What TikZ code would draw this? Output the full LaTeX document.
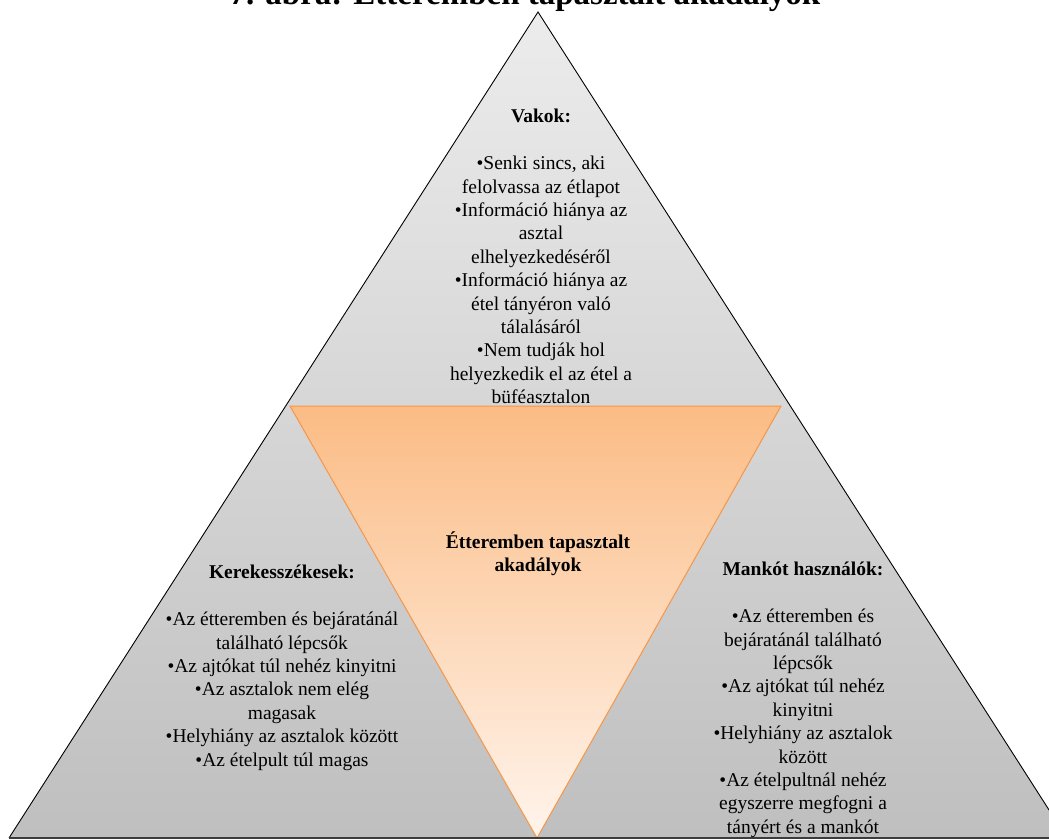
\documentclass[tikz,border=0pt]{standalone}
\usepackage{fontspec}
\setmainfont{Liberation Serif}
\definecolor{tgtop}{HTML}{ECECEC}
\definecolor{tgbot}{HTML}{BFBFBF}
\definecolor{darkline}{HTML}{3C3C3C}
\definecolor{ortop}{HTML}{FBBC85}
\definecolor{orbot}{HTML}{FFF4EC}
\definecolor{orline}{HTML}{F79646}
\begin{document}
\begin{tikzpicture}[x=1pt,y=-1pt,
  body/.style={font=\fontsize{19.5}{23.4}\selectfont, align=center, inner sep=0pt, anchor=north},
  head/.style={body, font=\bfseries\fontsize{19.5}{23.4}\selectfont},
]
\clip (0,0) rectangle (1049,840);
\useasboundingbox (0,0) rectangle (1049,840);

% big gray pyramid
\coordinate (A) at (538,12);
\coordinate (L) at (9,838);
\coordinate (R) at (1067,838);
\shade[top color=tgtop, bottom color=tgbot] (A) -- (L) -- (R) -- cycle;
\draw[black, line width=0.9pt, line join=miter] (L) -- (A) -- (R);

% central inverted triangle
\coordinate (OL) at (290,406);
\coordinate (OR) at (781,406);
\coordinate (OB) at (537,838);
\fill[black, opacity=0.22, xshift=1.5pt, yshift=-1.5pt] (OL) -- (OR) -- (OB) -- cycle;
\shade[top color=ortop, bottom color=orbot] (OL) -- (OR) -- (OB) -- cycle;
\draw[orline, line width=1pt] (OL) -- (OR) -- (OB) -- cycle;

\draw[darkline, line width=1.6pt] (L) -- (R);

% title
\node[font=\bfseries\fontsize{33}{39}\selectfont, anchor=base, inner sep=0pt] (title) at (525,5) {7. ábra: Étteremben tapasztalt akadályok};

% top block
\node[body] (vakok) at (541,104) {\rule{0pt}{18pt}\textbf{Vakok:}\\[24pt]
•Senki sincs, aki\\
felolvassa az étlapot\\
•Információ hiánya az\\
asztal\\
elhelyezkedéséről\\
•Információ hiánya az\\
étel tányéron való\\
tálalásáról\\
•Nem tudják hol\\
helyezkedik el az étel a\\
büféasztalon};

% left block
\node[body] (kerek) at (282,560) {\rule{0pt}{18pt}\textbf{Kerekesszékesek:}\\[24pt]
•Az étteremben és bejáratánál\\
található lépcsők\\
•Az ajtókat túl nehéz kinyitni\\
•Az asztalok nem elég\\
magasak\\
•Helyhiány az asztalok között\\
•Az ételpult túl magas};

% right block
\node[body] (mankot) at (803,557) {\rule{0pt}{18pt}\textbf{Mankót használók:}\\[24pt]
•Az étteremben és\\
bejáratánál található\\
lépcsők\\
•Az ajtókat túl nehéz\\
kinyitni\\
•Helyhiány az asztalok\\
között\\
•Az ételpultnál nehéz\\
egyszerre megfogni a\\
tányért és a mankót};

% center label
\node[head] (center) at (538,530) {\rule{0pt}{18pt}Étteremben tapasztalt\\akadályok};
\end{tikzpicture}
\end{document}
